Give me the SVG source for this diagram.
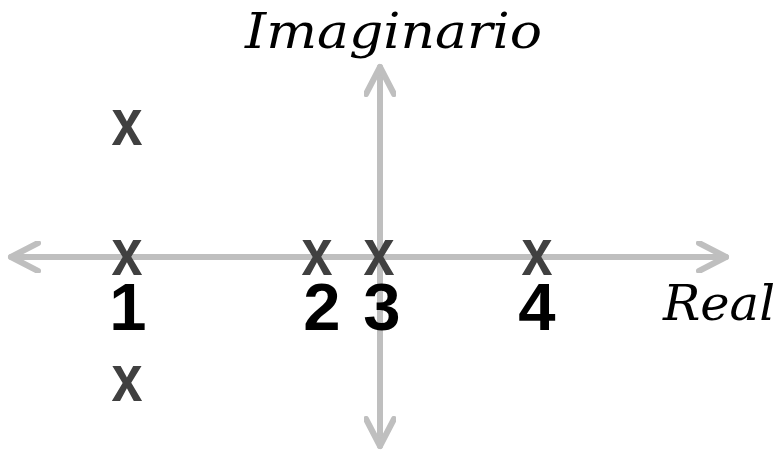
<svg xmlns="http://www.w3.org/2000/svg" width="779" height="451" viewBox="0 0 779 451">
<style>
.axis{stroke:#bfbfbf;stroke-width:6;fill:none;stroke-linecap:round;stroke-linejoin:round}
.pole{font-family:"Liberation Sans",Arial,sans-serif;font-weight:bold;font-size:66px;fill:#404040;text-anchor:middle}
.num{font-family:"Liberation Sans",Arial,sans-serif;font-weight:bold;font-size:67px;fill:#000;text-anchor:middle}
.lbl{font-family:"DejaVu Serif",serif;font-style:italic;font-size:48px;fill:#000}
</style>
<defs>
<marker id="chev" viewBox="-30 -16 34 32" markerWidth="34" markerHeight="32" refX="0" refY="0" orient="auto-start-reverse" markerUnits="userSpaceOnUse">
<path d="M-27,-14 L0,0 L-27,14" stroke="#bfbfbf" stroke-width="6" fill="none" stroke-linecap="round" stroke-linejoin="round"/>
</marker>
</defs>
<g id="connectors">
<line class="axis" x1="11" y1="257" x2="726" y2="257" marker-start="url(#chev)" marker-end="url(#chev)"/>
<line class="axis" x1="380" y1="446" x2="380" y2="67" marker-start="url(#chev)" marker-end="url(#chev)"/>
</g>
<g id="labels">
<text class="lbl" x="245" y="48" textLength="297" lengthAdjust="spacingAndGlyphs">Imaginario</text>
<text class="lbl" x="663" y="320" textLength="112" lengthAdjust="spacingAndGlyphs">Real</text>
</g>
<g id="pole1">
<text class="pole" x="127" y="145" textLength="31" lengthAdjust="spacingAndGlyphs">x</text>
<text class="pole" x="127" y="275" textLength="31" lengthAdjust="spacingAndGlyphs">x</text>
<text class="pole" x="127" y="401" textLength="31" lengthAdjust="spacingAndGlyphs">x</text>
<text class="num" x="128" y="330">1</text>
</g>
<g id="pole2">
<text class="pole" x="317" y="275" textLength="31" lengthAdjust="spacingAndGlyphs">x</text>
<text class="num" x="322" y="330">2</text>
</g>
<g id="pole3">
<text class="pole" x="379" y="275" textLength="31" lengthAdjust="spacingAndGlyphs">x</text>
<text class="num" x="382" y="330">3</text>
</g>
<g id="pole4">
<text class="pole" x="537" y="275" textLength="31" lengthAdjust="spacingAndGlyphs">x</text>
<text class="num" x="537" y="330">4</text>
</g>
</svg>
